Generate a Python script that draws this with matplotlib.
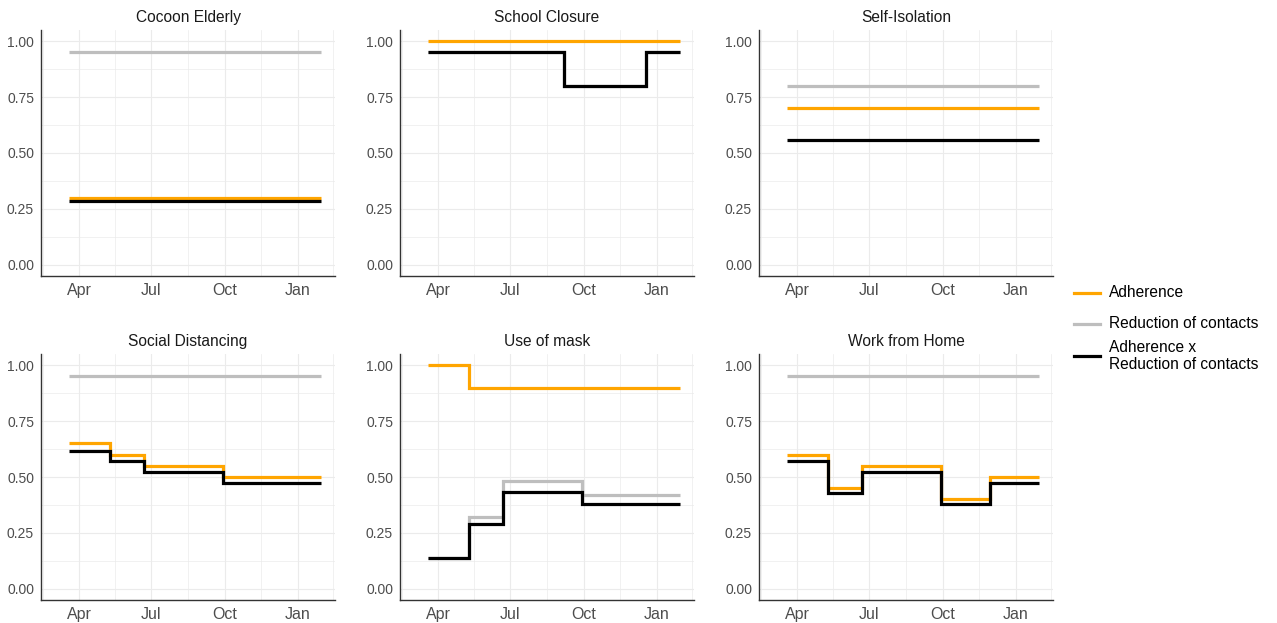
import numpy as np
import pandas as pd
import matplotlib
matplotlib.use("Agg")
import matplotlib.pyplot as plt
import matplotlib.dates as mdates
from matplotlib.lines import Line2D

plt.rcParams['font.family'] = ['Liberation Sans', 'DejaVu Sans']

# step change dates per panel (last date = end of the line)
start = "2020-03-19"
end = "2021-01-31"

panels = ["Cocoon Elderly", "School Closure", "Self-Isolation",
          "Social Distancing", "Use of mask", "Work from Home"]

dates = {
    "Cocoon Elderly": [start, end],
    "School Closure": [start, "2020-09-07", "2020-12-18", end],
    "Self-Isolation": [start, end],
    "Social Distancing": [start, "2020-05-10", "2020-06-22", "2020-09-29", end],
    "Use of mask": [start, "2020-05-10", "2020-06-22", "2020-09-29", end],
    "Work from Home": [start, "2020-05-10", "2020-06-22", "2020-09-29", "2020-11-30", end],
}

adherence = {
    "Cocoon Elderly": [0.30],
    "School Closure": [1.00, 1.00, 1.00],
    "Self-Isolation": [0.70],
    "Social Distancing": [0.65, 0.60, 0.55, 0.50],
    "Use of mask": [1.00, 0.90, 0.90, 0.90],
    "Work from Home": [0.60, 0.45, 0.55, 0.40, 0.50],
}

reduction = {
    "Cocoon Elderly": [0.95],
    "School Closure": [0.95, 0.80, 0.95],
    "Self-Isolation": [0.80],
    "Social Distancing": [0.95, 0.95, 0.95, 0.95],
    "Use of mask": [0.14, 0.32, 0.48, 0.42],
    "Work from Home": [0.95, 0.95, 0.95, 0.95, 0.95],
}

labels = ["Adherence", "Reduction of contacts", "Adherence x\nReduction of contacts"]
line_colors = ["#FFA500", "#BEBEBE", "#000000"]

W, H = 1277, 623
fig = plt.figure(figsize=(W / 100, H / 100), dpi=100)

col_left = [41, 400, 759]
row_top = [30, 354]
pw, ph = 294, 246

xmin = mdates.date2num(pd.Timestamp("2020-02-13"))
xmax = mdates.date2num(pd.Timestamp("2021-02-17"))

for i, name in enumerate(panels):
    r, c = divmod(i, 3)
    ax = fig.add_axes([col_left[c] / W, 1 - (row_top[r] + ph) / H, pw / W, ph / H])
    d = pd.to_datetime(dates[name])
    a = np.array(adherence[name])
    red = np.array(reduction[name])
    prod = a * red
    for vals, col in zip([a, red, prod], line_colors):
        y = np.append(vals, vals[-1])
        ax.plot(d, y, drawstyle="steps-post", color=col, lw=2.3,
                solid_capstyle="butt", solid_joinstyle="miter")

    ax.set_xlim(xmin, xmax)
    ax.set_ylim(-0.05, 1.05)
    ax.set_yticks([0, 0.25, 0.5, 0.75, 1.0])
    ax.set_yticklabels(["0.00", "0.25", "0.50", "0.75", "1.00"])
    ax.set_yticks([0.125, 0.375, 0.625, 0.875], minor=True)
    major = pd.to_datetime(["2020-04-01", "2020-07-01", "2020-10-01", "2021-01-01"])
    minor = pd.to_datetime(["2020-02-15", "2020-05-16", "2020-08-16", "2020-11-16", "2021-02-15"])
    ax.set_xticks(mdates.date2num(major))
    ax.set_xticklabels(["Apr", "Jul", "Oct", "Jan"])
    ax.set_xticks(mdates.date2num(minor), minor=True)
    ax.grid(True, which="major", color="#EBEBEB", lw=0.8)
    ax.grid(True, which="minor", color="#EBEBEB", lw=0.5)
    ax.set_axisbelow(True)
    for s in ["top", "right"]:
        ax.spines[s].set_visible(False)
    for s in ["left", "bottom"]:
        ax.spines[s].set_color("#333333")
        ax.spines[s].set_linewidth(1.0)
    ax.tick_params(which="both", length=0, labelcolor="#4D4D4D")
    ax.tick_params(axis="y", labelsize=10, pad=5)
    ax.tick_params(axis="x", labelsize=11.5, pad=5)
    ax.set_title(name, fontsize=11.2, color="#1A1A1A", pad=6)

# legend drawn by hand to match the ggplot key spacing
leg_y = [292.5, 324, 356]
for lab, col, yy in zip(labels, line_colors, leg_y):
    fig.add_artist(Line2D([1074 / W, 1100 / W], [1 - yy / H, 1 - yy / H],
                          color=col, lw=2.3, transform=fig.transFigure))
    fig.text(1109 / W, 1 - yy / H, lab, fontsize=11.2, va="center", ha="left",
             color="#000000", linespacing=1.12)

fig.savefig("out.png", dpi=100)
